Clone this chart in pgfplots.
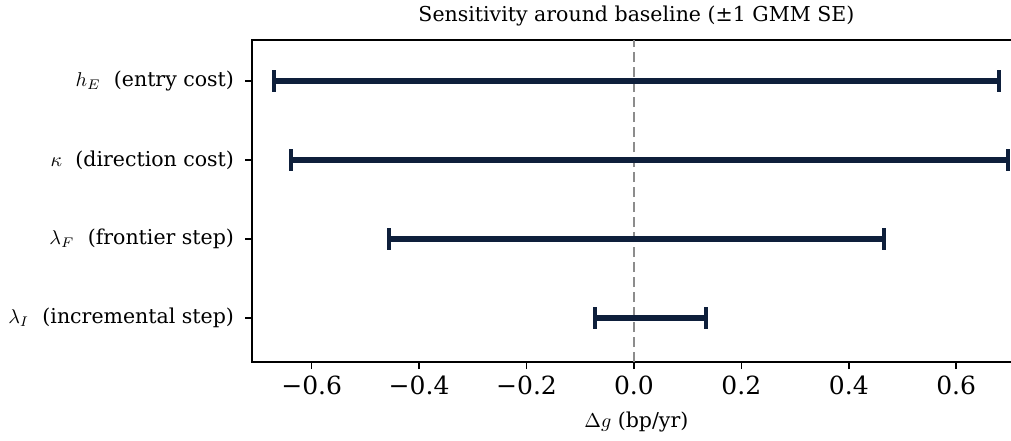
\documentclass[border=0pt]{standalone}
\usepackage{fontspec}
\setmainfont{DejaVu Serif}
\usepackage{pgfplots}
\pgfplotsset{compat=1.18}
\definecolor{navy}{HTML}{0E1F3B}
\definecolor{zeroline}{HTML}{8C8C8C}

\begin{document}
\begin{tikzpicture}
\begin{axis}[
  scale only axis,
  width=384.2pt,
  height=161pt,
  xmin=-0.711, xmax=0.72,
  ymin=-0.557, ymax=3.52,
  xtick={-0.6,-0.4,-0.2,0,0.2,0.4,0.6},
  xticklabels={−0.6,−0.4,−0.2,0.0,0.2,0.4,0.6},
  ytick={0,1,2,3},
  yticklabels={
    {$\lambda_I$\hspace{0.65em}(incremental step)},
    {$\lambda_F$\hspace{0.65em}(frontier step)},
    {$\kappa$\hspace{0.65em}(direction cost)},
    {$h_E$\hspace{0.65em}(entry cost)}},
  tick align=outside,
  major tick length=3.5pt,
  xtick pos=lower,
  ytick pos=left,
  every tick/.style={black, line width=0.8pt},
  axis line style={line width=1pt},
  xticklabel style={font=\fontsize{12.5}{14}\selectfont},
  yticklabel style={font=\fontsize{10.25}{12}\selectfont, xshift=-2pt},
  title={Sensitivity around baseline (±1 GMM SE)},
  title style={font=\fontsize{10.25}{12}\selectfont, yshift=-2.5pt},
  xlabel={$\Delta g$ (bp/yr)},
  xlabel style={font=\fontsize{10.25}{12}\selectfont, yshift=-1.5pt},
]
\addplot[zeroline, line width=1.3pt, dash pattern=on 5pt off 2.5pt] coordinates {(0,-0.557) (0,3.52)};

\addplot[navy, line width=3pt, mark=|, mark size=5.5pt, mark options={line width=2pt, solid}] coordinates {(-0.670,3) (0.679,3)};
\addplot[navy, line width=3pt, mark=|, mark size=5.5pt, mark options={line width=2pt, solid}] coordinates {(-0.638,2) (0.697,2)};
\addplot[navy, line width=3pt, mark=|, mark size=5.5pt, mark options={line width=2pt, solid}] coordinates {(-0.456,1) (0.466,1)};
\addplot[navy, line width=3pt, mark=|, mark size=5.5pt, mark options={line width=2pt, solid}] coordinates {(-0.073,0) (0.135,0)};

\coordinate (R) at (axis cs:0.702,3.52);
\end{axis}
\pgfresetboundingbox
\path[use as bounding box] ([xshift=-126pt,yshift=-39pt]current axis.south west) rectangle ([yshift=20pt]R);
\end{tikzpicture}
\end{document}
